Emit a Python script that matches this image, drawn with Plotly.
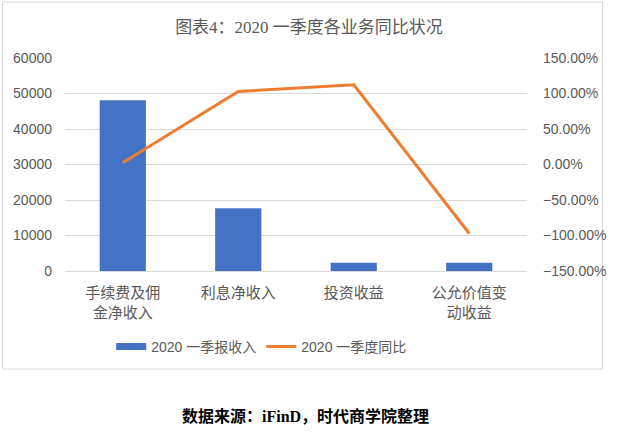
import plotly.graph_objects as go

categories = ["手续费及佣<br>金净收入", "利息净收入", "投资收益", "公允价值变<br>动收益"]
revenue = [48100, 17700, 2300, 2300]
yoy = [0.024, 1.028, 1.123, -0.972]
series_names = ["2020 一季报收入", "2020 一季度同比"]
title_text = "图表4：2020 一季度各业务同比状况"
footer_text = "数据来源：iFinD，时代商学院整理"

SANS = "Liberation Sans, Arial, Noto Sans CJK SC, sans-serif"
SERIF = "Liberation Serif, DejaVu Serif, Noto Sans CJK SC, serif"
GRAY = "#595959"
BLUE = "#4472C4"
ORANGE = "#ED7D31"

fig = go.Figure()
fig.add_trace(go.Bar(x=categories, y=revenue, name=series_names[0],
                     marker=dict(color=BLUE, line=dict(width=0)),
                     width=0.4, yaxis="y", showlegend=False, legendgroup="a"))
# legend swatch for the bar series (wide flat rectangle like the reference)
fig.add_trace(go.Scatter(x=[None], y=[None], name=series_names[0], mode="lines",
                         line=dict(color=BLUE, width=7), legendgroup="a", yaxis="y"))
fig.add_trace(go.Scatter(x=categories, y=yoy, name=series_names[1], mode="lines",
                         line=dict(color=ORANGE, width=3), yaxis="y2"))

L, R, T, B = 65, 88, 58, 162
W, H = 618, 433
pw, ph = W - L - R, H - T - B

def px(x):
    return (x - L) / pw

def py(y):
    return (H - B - y) / ph

fig.update_layout(
    width=W, height=H,
    margin=dict(l=L, r=R, t=T, b=B),
    paper_bgcolor="white", plot_bgcolor="white",
    font=dict(family=SANS, color=GRAY, size=14),
    title=dict(text=title_text, x=0.5, xanchor="center", y=1 - 27 / H, yanchor="middle",
               yref="container", font=dict(family=SERIF, size=17, color=GRAY)),
    xaxis=dict(type="category", range=[-0.5, 3.5], showgrid=False, showline=False,
               ticks="", tickfont=dict(size=15, color=GRAY), ticklabelstandoff=11),
    yaxis=dict(range=[0, 60000], dtick=10000, tickformat="d", showgrid=True,
               gridcolor="#d9d9d9", gridwidth=1, zeroline=True, zerolinecolor="#d9d9d9",
               zerolinewidth=1, showline=False, ticks="", ticklabelstandoff=12,
               tickfont=dict(size=14, color=GRAY)),
    yaxis2=dict(range=[-1.5, 1.5], dtick=0.5, tickformat=".2%", overlaying="y",
                side="right", showgrid=False, zeroline=False, showline=False, ticks="",
                ticklabelstandoff=15, tickfont=dict(size=14, color=GRAY)),
    showlegend=True,
    legend=dict(orientation="h", x=px(263), xanchor="center", y=py(347), yanchor="middle",
                font=dict(size=14, color=GRAY), itemwidth=30, traceorder="normal",
                bgcolor="rgba(0,0,0,0)"),
    shapes=[dict(type="rect", xref="paper", yref="paper",
                 x0=px(2), x1=px(606), y0=py(369), y1=py(2),
                 line=dict(color="#d9d9d9", width=1), fillcolor="rgba(0,0,0,0)",
                 layer="below")],
    annotations=[dict(text="<b>" + footer_text + "</b>", xref="paper", yref="paper",
                      x=px(307), y=py(416), xanchor="center", yanchor="middle",
                      showarrow=False,
                      font=dict(family=SERIF, size=16, color="#000000"))],
)

fig.write_html("out.html")
